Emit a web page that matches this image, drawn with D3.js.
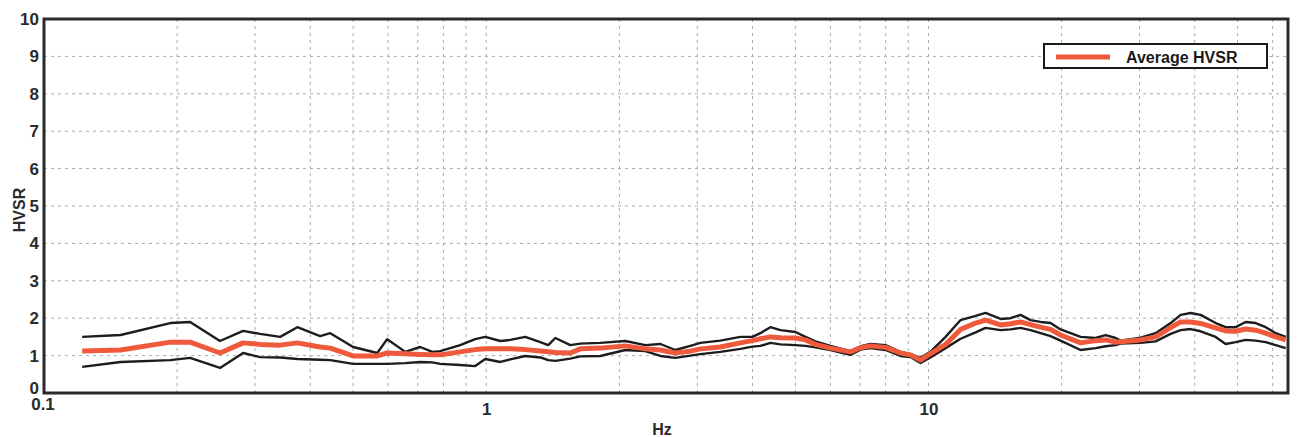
<html>
<head>
<style>
  body { margin: 0; background: #fff; }
  text { font-family: "Liberation Sans", Arial, sans-serif; }
  .grid line { stroke: #a3afaf; stroke-width: 1; stroke-dasharray: 3,4; }
  .tick-label text { font-weight: bold; font-size: 17px; fill: #2b2b2b; }
  .avg { fill: none; stroke: #f05a3c; stroke-width: 5; stroke-linejoin: round; }
  .std { fill: none; stroke: #1c1c1c; stroke-width: 2.4; stroke-linejoin: round; }
</style>
</head>
<body>
<script src="https://cdn.jsdelivr.net/npm/d3@7"></script>
<svg id="chart" width="1298" height="437"></svg>
<script>
// frequencies (Hz)
let freq = [0.122, 0.149, 0.193, 0.214, 0.250, 0.282, 0.308, 0.342, 0.374, 0.421,
            0.444, 0.500, 0.567, 0.597, 0.656, 0.709, 0.755, 0.787, 0.873, 0.944,
            0.995, 1.076, 1.133, 1.225, 1.325, 1.381, 1.433, 1.549, 1.632, 1.811,
            2.063, 2.289, 2.476, 2.677, 2.894, 3.050, 3.383, 3.756, 3.998, 4.168,
            4.391, 4.627, 5.002, 5.270, 5.551, 6.002, 6.660, 7.020, 7.395, 7.994,
            8.644, 9.107, 9.592, 10.10, 10.93, 11.82, 12.78, 13.46, 14.56, 15.33,
            16.15, 17.01, 17.92, 18.88, 19.89, 22.08, 23.87, 25.15, 26.49, 27.19,
            30.17, 32.63, 35.28, 37.16, 39.15, 41.24, 44.60, 46.98, 49.50, 52.14,
            54.92, 57.86, 60.96, 64.22];

let hvsrUpper = [1.50, 1.55, 1.87, 1.90, 1.39, 1.66, 1.58, 1.50, 1.76, 1.52,
                 1.60, 1.23, 1.07, 1.44, 1.10, 1.23, 1.10, 1.12, 1.28, 1.44,
                 1.50, 1.39, 1.42, 1.50, 1.36, 1.28, 1.47, 1.28, 1.32, 1.34,
                 1.39, 1.28, 1.31, 1.15, 1.26, 1.34, 1.40, 1.50, 1.50, 1.60,
                 1.76, 1.68, 1.63, 1.50, 1.38, 1.26, 1.12, 1.25, 1.31, 1.28,
                 1.10, 1.04, 0.94, 1.10, 1.50, 1.95, 2.06, 2.14, 1.98, 2.00,
                 2.09, 1.95, 1.90, 1.87, 1.70, 1.50, 1.47, 1.55, 1.47, 1.40,
                 1.48, 1.60, 1.87, 2.09, 2.14, 2.09, 1.87, 1.76, 1.76, 1.90,
                 1.87, 1.76, 1.60, 1.50];

let hvsrAvg = [1.12, 1.15, 1.36, 1.36, 1.07, 1.34, 1.30, 1.28, 1.34, 1.23,
               1.20, 0.99, 0.99, 1.07, 1.05, 1.03, 1.02, 1.02, 1.10, 1.16,
               1.18, 1.18, 1.18, 1.16, 1.12, 1.10, 1.08, 1.07, 1.18, 1.20,
               1.26, 1.18, 1.15, 1.07, 1.12, 1.18, 1.23, 1.34, 1.40, 1.45,
               1.50, 1.48, 1.47, 1.42, 1.30, 1.20, 1.10, 1.21, 1.26, 1.22,
               1.07, 1.02, 0.88, 1.05, 1.30, 1.70, 1.87, 1.95, 1.82, 1.85,
               1.90, 1.83, 1.76, 1.70, 1.55, 1.34, 1.40, 1.42, 1.36, 1.37,
               1.42, 1.50, 1.75, 1.90, 1.90, 1.86, 1.74, 1.66, 1.65, 1.71,
               1.68, 1.60, 1.50, 1.42];

let hvsrLower = [0.70, 0.83, 0.88, 0.94, 0.67, 1.07, 0.96, 0.95, 0.91, 0.89,
                 0.88, 0.78, 0.78, 0.78, 0.80, 0.83, 0.82, 0.78, 0.75, 0.72,
                 0.91, 0.83, 0.90, 0.99, 0.95, 0.88, 0.86, 0.92, 0.98, 0.99,
                 1.15, 1.12, 0.99, 0.94, 1.00, 1.04, 1.10, 1.18, 1.24, 1.26,
                 1.34, 1.30, 1.28, 1.26, 1.22, 1.15, 1.02, 1.16, 1.20, 1.15,
                 0.99, 0.96, 0.80, 0.95, 1.20, 1.45, 1.62, 1.74, 1.68, 1.70,
                 1.74, 1.68, 1.60, 1.52, 1.40, 1.15, 1.20, 1.25, 1.28, 1.32,
                 1.34, 1.38, 1.58, 1.68, 1.71, 1.65, 1.50, 1.31, 1.36, 1.42,
                 1.40, 1.36, 1.28, 1.20];

let gridFreqs = [0.2, 0.3, 0.4, 0.5, 0.6, 0.7, 0.8, 0.9, 1, 2, 3, 4, 5, 6, 7, 8, 9,
                 10, 20, 30, 40, 50, 60];
let xTickLabels = [1, 10];
let yTicks = [0, 1, 2, 3, 4, 5, 6, 7, 8, 9, 10];

let svg = d3.select("#chart");
let plotLeft = 44, plotRight = 1288, plotTop = 19, plotBottom = 393;

let x = d3.scaleLog().domain([0.1, 65]).range([plotLeft, plotRight]);
let y = d3.scaleLinear().domain([0, 10]).range([plotBottom, plotTop]);

// grid
let grid = svg.append("g").attr("class", "grid");
grid.selectAll(".v").data(gridFreqs).enter().append("line")
    .attr("x1", d => x(d)).attr("x2", d => x(d))
    .attr("y1", plotTop).attr("y2", plotBottom);
grid.selectAll(".h").data(yTicks.slice(1, -1)).enter().append("line")
    .attr("x1", plotLeft).attr("x2", plotRight)
    .attr("y1", d => y(d)).attr("y2", d => y(d));

// curves
let line = d3.line()
    .x(d => x(d[0]))
    .y(d => y(d[1]));

svg.append("path").attr("class", "std")
    .datum(d3.zip(freq, hvsrUpper)).attr("d", line);
svg.append("path").attr("class", "std")
    .datum(d3.zip(freq, hvsrLower)).attr("d", line);
svg.append("path").attr("class", "avg")
    .datum(d3.zip(freq, hvsrAvg)).attr("d", line);

// frame
svg.append("rect")
    .attr("x", plotLeft).attr("y", plotTop)
    .attr("width", plotRight - plotLeft).attr("height", plotBottom - plotTop)
    .attr("fill", "none").attr("stroke", "#2a2a2a").attr("stroke-width", 3);

// axes labels
let yAxis = d3.axisLeft(y).tickValues(yTicks).tickSize(0).tickPadding(5);
svg.append("g").attr("class", "tick-label")
    .attr("transform", "translate(" + plotLeft + ",0)")
    .call(yAxis)
    .call(g => g.select(".domain").remove())
    .call(g => g.selectAll(".tick text").attr("dy", d => d === 0 ? "0em" : "0.32em"));

let xAxis = d3.axisBottom(x).tickValues(xTickLabels).tickFormat(d3.format("")).tickSize(0).tickPadding(10);
svg.append("g").attr("class", "tick-label")
    .attr("transform", "translate(0," + plotBottom + ")")
    .call(xAxis)
    .call(g => g.select(".domain").remove());

svg.append("text")
    .attr("x", plotLeft - 1).attr("y", 410)
    .attr("text-anchor", "middle")
    .style("font-weight", "bold").style("font-size", "17px").style("fill", "#2b2b2b")
    .text("0.1");

svg.append("text")
    .attr("x", 662).attr("y", 435)
    .attr("text-anchor", "middle")
    .style("font-weight", "bold").style("font-size", "16px").style("fill", "#2b2b2b")
    .text("Hz");

svg.append("text")
    .attr("transform", "translate(25,210) rotate(-90)")
    .attr("text-anchor", "middle")
    .style("font-weight", "bold").style("font-size", "16px").style("fill", "#2b2b2b")
    .text("HVSR");

// legend
let legend = svg.append("g").attr("transform", "translate(1044,44)");
legend.append("rect")
    .attr("width", 223).attr("height", 24)
    .attr("fill", "#fff").attr("stroke", "#1a1a1a").attr("stroke-width", 2);
legend.append("line")
    .attr("x1", 12).attr("x2", 66).attr("y1", 13).attr("y2", 13)
    .attr("stroke", "#f05a3c").attr("stroke-width", 5);
legend.append("text")
    .attr("x", 82).attr("y", 18.5)
    .style("font-size", "16px").style("font-weight", "bold").style("fill", "#1a1a1a")
    .text("Average HVSR");
</script>
</body>
</html>
